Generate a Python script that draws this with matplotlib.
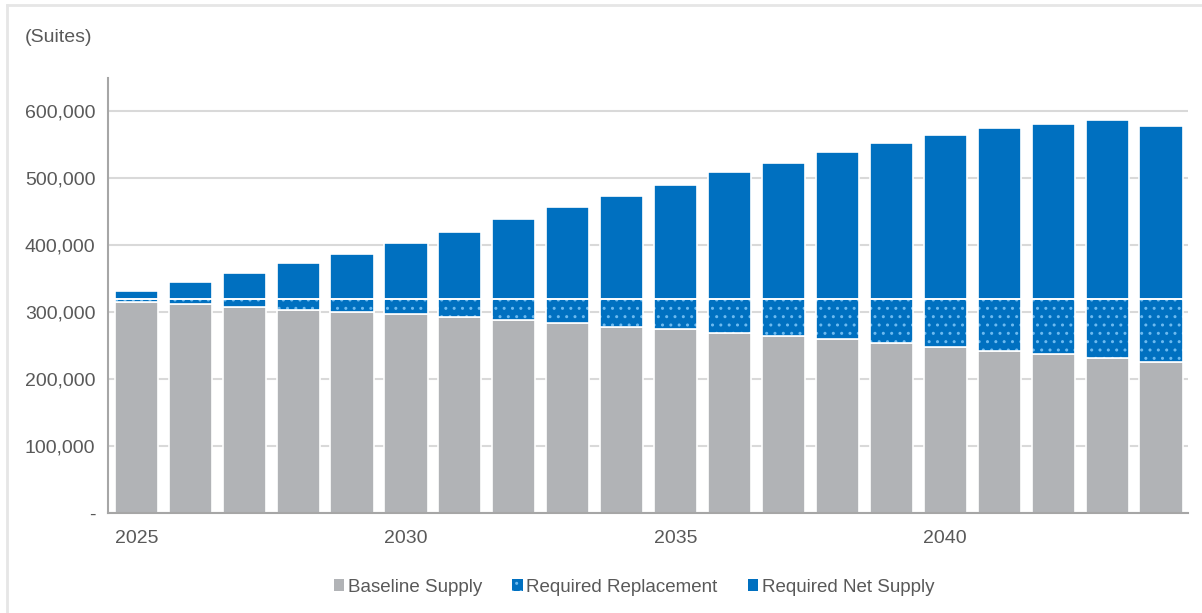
import matplotlib.pyplot as plt
from matplotlib.lines import Line2D
from matplotlib.patches import Patch
from matplotlib.ticker import FuncFormatter

plt.rcParams['font.family'] = ['Liberation Sans', 'DejaVu Sans']
plt.rcParams['hatch.linewidth'] = 1.0

years = list(range(2025, 2045))
tick_years = [2025, 2030, 2035, 2040]

# 단위: 천 세대(suites)
baseline = [316, 312, 308, 304, 300.5, 297.5, 293, 289, 284.5, 278.5,
            275, 269.5, 264.5, 259.5, 253.5, 248, 242.5, 237, 231, 225.5]
replacement = [4, 8, 12, 16, 19.5, 22.5, 27, 31, 35.5, 41.5,
               45, 50.5, 55.5, 60.5, 66.5, 72, 77.5, 83, 89, 94.5]
net_supply = [11, 25, 39, 53, 67, 84, 100, 119.5, 136.5, 153.5,
              170, 189.5, 203, 219.5, 233.5, 245, 256, 261.5, 267, 259]

labels = ['Baseline Supply', 'Required Replacement', 'Required Net Supply']

gray = '#B1B3B6'
blue = '#0070C0'
dot = '#6CBAF0'
txt = '#595959'

base = [v * 1000 for v in baseline]
repl = [v * 1000 for v in replacement]
net = [v * 1000 for v in net_supply]
bottom_net = [b + r for b, r in zip(base, repl)]
x = list(range(len(years)))
w = 0.8

fig = plt.figure(figsize=(12.02, 6.13), dpi=100)
ax = fig.add_axes([108 / 1202, 1 - 513 / 613, (1188 - 108) / 1202, (513 - 78) / 613])

ax.bar(x, base, w, color=gray, edgecolor='white', linewidth=1.2, zorder=2)
# 점무늬 막대: 무늬 먼저, 흰 테두리는 따로
ax.bar(x, repl, w, bottom=base, color=blue, edgecolor=dot, linewidth=0,
       hatch='..', zorder=2)
ax.bar(x, repl, w, bottom=base, facecolor='none', edgecolor='white',
       linewidth=1.2, zorder=3)
ax.bar(x, net, w, bottom=bottom_net, color=blue, edgecolor='white',
       linewidth=1.2, zorder=2)

ax.set_xlim(-0.525, 19.5)
ax.set_ylim(0, 650000)
ax.set_yticks(range(0, 700000, 100000))
ax.yaxis.set_major_formatter(FuncFormatter(lambda v, p: '-' if v == 0 else f'{int(v):,}'))
ax.set_xticks([years.index(y) for y in tick_years])
ax.set_xticklabels([str(y) for y in tick_years])
ax.tick_params(axis='both', length=0, labelsize=14, labelcolor=txt)
ax.tick_params(axis='y', pad=9)
ax.tick_params(axis='x', pad=12)

ax.grid(axis='y', color='#D9D9D9', linewidth=1.5, zorder=0)
ax.set_axisbelow(True)
for s in ['top', 'right']:
    ax.spines[s].set_visible(False)
ax.spines['left'].set_color('#A6A6A6')
ax.spines['left'].set_linewidth(1.5)
ax.spines['bottom'].set_color('#A6A6A6')
ax.spines['bottom'].set_linewidth(1.5)

fig.text(25 / 1202, 1 - 37 / 613, '(Suites)', fontsize=14, color=txt, va='center', ha='left')

handles = [Patch(facecolor=gray, edgecolor='none'),
           Patch(facecolor=blue, edgecolor=dot, linewidth=0, hatch='..'),
           Patch(facecolor=blue, edgecolor='none')]
fig.legend(handles, labels, loc='center', bbox_to_anchor=(634 / 1202, 1 - 587 / 613),
           ncol=3, frameon=False, fontsize=13.5, labelcolor=txt,
           handlelength=0.55, handleheight=0.55, handletextpad=0.2, columnspacing=1.6)

# 바깥 테두리(왼쪽, 위)
fig.add_artist(Line2D([6.5 / 1202, 6.5 / 1202], [0, 1 - 5 / 613], color='#E6E6E6', linewidth=2))
fig.add_artist(Line2D([6.5 / 1202, 1], [1 - 5 / 613, 1 - 5 / 613], color='#E6E6E6', linewidth=2))

fig.savefig('out.png', dpi=100)
